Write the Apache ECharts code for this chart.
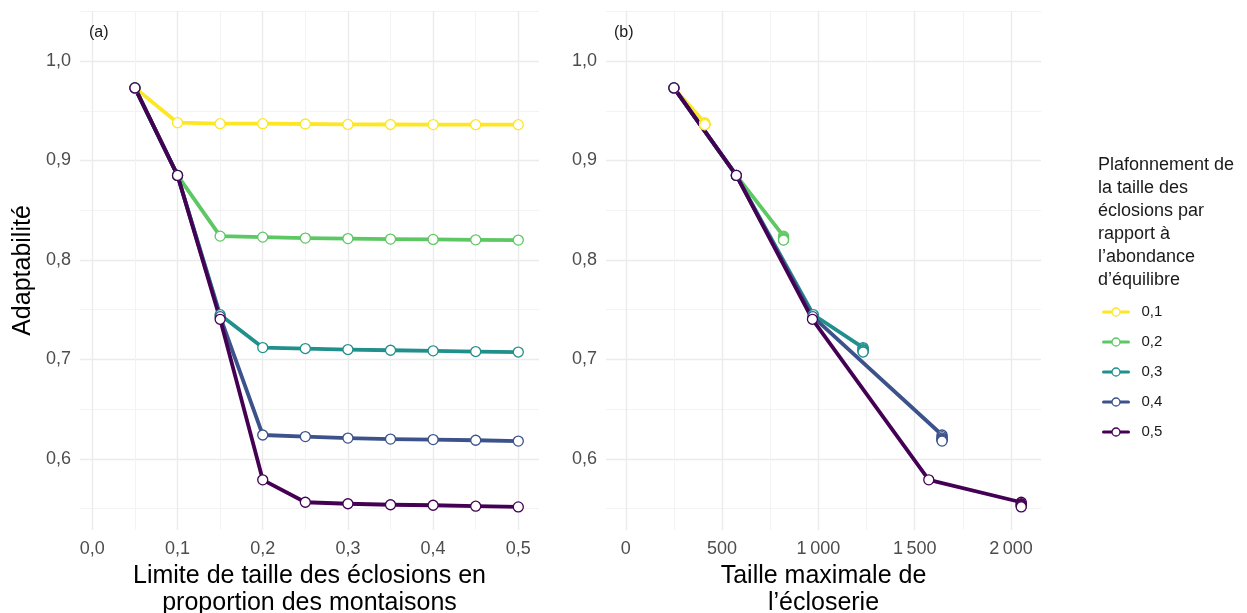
<!DOCTYPE html>
<html>
<head>
<meta charset="utf-8">
<script src="https://cdn.jsdelivr.net/npm/echarts@6/dist/echarts.min.js"></script>
<style>
  html, body { margin: 0; padding: 0; background: #ffffff; }
  #chart { width: 1247px; height: 613px; }
</style>
</head>
<body>
<div id="chart"></div>
<script>
// Limite de taille des éclosions (proportion des montaisons)
const limites = [0.05, 0.1, 0.15, 0.2, 0.25, 0.3, 0.35, 0.4, 0.45, 0.5];

// Plafonnement (proportion de l'abondance d'équilibre)
const plafonds = ['0,1', '0,2', '0,3', '0,4', '0,5'];
const couleurs = ['#FDE725', '#5DC863', '#21908C', '#3B528B', '#440154'];

// Adaptabilité pour chaque plafond, dans l'ordre des limites
const adapt01 = [0.973, 0.938, 0.937, 0.937, 0.9367, 0.9363, 0.9362, 0.9361, 0.936, 0.936];
const adapt02 = [0.973, 0.885, 0.824, 0.823, 0.822, 0.8215, 0.821, 0.8207, 0.8203, 0.820];
const adapt03 = [0.973, 0.885, 0.745, 0.712, 0.711, 0.710, 0.7093, 0.7087, 0.708, 0.7075];
const adapt04 = [0.973, 0.885, 0.743, 0.6241, 0.6225, 0.621, 0.620, 0.6195, 0.6188, 0.618];
const adapt05 = [0.973, 0.885, 0.7404, 0.579, 0.5565, 0.555, 0.554, 0.5535, 0.5525, 0.5518];

// Taille maximale de l'écloserie atteinte pour chaque limite
const taille01 = [250, 410, 410, 410, 410, 410, 410, 410, 410, 410];
const taille02 = [250, 574, 819, 819, 819, 819, 819, 819, 819, 819];
const taille03 = [250, 574, 974, 1232, 1232, 1232, 1232, 1232, 1232, 1232];
const taille04 = [250, 574, 971, 1642, 1642, 1642, 1642, 1642, 1642, 1642];
const taille05 = [250, 574, 969, 1573, 2053, 2053, 2053, 2053, 2053, 2053];

// Graduations
const ticksY = [0.6, 0.7, 0.8, 0.9, 1.0];
const ticksLimite = [0.0, 0.1, 0.2, 0.3, 0.4, 0.5];
const ticksTaille = [0, 500, 1000, 1500, 2000];

const adaptations = [adapt01, adapt02, adapt03, adapt04, adapt05];
const tailles = [taille01, taille02, taille03, taille04, taille05];

const FONT = '"Liberation Sans", Arial, sans-serif';
const GRIS_TEXTE = '#4d4d4d';

function estGraduation(v, liste) {
  return liste.some(t => Math.abs(t - v) < 1e-6);
}
function virgule(v, dec) {
  return v.toFixed(dec).replace('.', ',');
}
function milliers(v) {
  const s = String(Math.round(v));
  return s.length > 3 ? s.slice(0, s.length - 3) + '\u202F' + s.slice(-3) : s;
}

const splitLine = { show: true, showMinLine: false, showMaxLine: false,
  lineStyle: { color: '#ebebeb', width: 1.4 } };
const minorSplitLine = { show: true, lineStyle: { color: '#f3f3f3', width: 1 } };

function axeY(index, nom) {
  return {
    type: 'value', gridIndex: index, min: 0.5286, max: 1.0503, splitNumber: 5,
    name: nom, nameLocation: 'middle', nameGap: 44, nameRotate: 90,
    nameTextStyle: { fontFamily: FONT, fontSize: 25, color: '#000' },
    axisLine: { show: false }, axisTick: { show: false },
    minorTick: { show: false, splitNumber: 2 },
    axisLabel: { fontFamily: FONT, fontSize: 18, color: GRIS_TEXTE, margin: 9,
      showMinLabel: false, showMaxLabel: false,
      formatter: v => estGraduation(v, ticksY) ? virgule(v, 1) : '' },
    splitLine: splitLine, minorSplitLine: minorSplitLine
  };
}

function axeX(index, min, max, nom, format) {
  return {
    type: 'value', gridIndex: index, min: min, max: max, splitNumber: 5,
    name: nom, nameLocation: 'middle', nameGap: 30,
    nameTextStyle: { fontFamily: FONT, fontSize: 25, lineHeight: 27, color: '#000' },
    axisLine: { show: false }, axisTick: { show: false },
    minorTick: { show: false, splitNumber: 2 },
    axisLabel: { fontFamily: FONT, fontSize: 18, color: GRIS_TEXTE, margin: 10,
      showMinLabel: false, showMaxLabel: false, formatter: format },
    splitLine: splitLine, minorSplitLine: minorSplitLine
  };
}

const series = [];
const points = [];
[0, 1].forEach(panneau => {
  plafonds.forEach((nom, i) => {
    const xs = panneau === 0 ? limites : tailles[i];
    const data = xs.map((x, k) => [x, adaptations[i][k]]);
    const style = { color: '#ffffff', borderColor: couleurs[i], borderWidth: 1.3, opacity: 1 };
    series.push({
      type: 'line', name: nom, xAxisIndex: panneau, yAxisIndex: panneau,
      data: data, symbol: 'circle', symbolSize: 10, showSymbol: false,
      itemStyle: style,
      lineStyle: { color: couleurs[i], width: 3.8, join: 'round', cap: 'round' },
      emphasis: { disabled: true }, animation: false, z: 2
    });
    points.push({
      type: 'scatter', name: nom, xAxisIndex: panneau, yAxisIndex: panneau,
      data: data, symbol: 'circle', symbolSize: 10,
      itemStyle: style, emphasis: { disabled: true }, animation: false, z: 3,
      legendHoverLink: false
    });
  });
});

const option = {
  backgroundColor: '#ffffff',
  animation: false,
  grid: [
    { left: 80, top: 11, width: 459, height: 519, containLabel: false, outerBoundsMode: 'none' },
    { left: 606, top: 11, width: 435, height: 519, containLabel: false, outerBoundsMode: 'none' }
  ],
  xAxis: [
    axeX(0, -0.0145, 0.5243, 'Limite de taille des éclosions en\nproportion des montaisons',
      v => estGraduation(v, ticksLimite) ? virgule(v, 1) : ''),
    axeX(1, -102.6, 2155.6, 'Taille maximale de\nl’écloserie',
      v => estGraduation(v, ticksTaille) ? milliers(v) : '')
  ],
  yAxis: [axeY(0, 'Adaptabilité'), axeY(1, '')],
  legend: {
    data: plafonds,
    orient: 'vertical', left: 1097, top: 299,
    itemWidth: 25, itemHeight: 10, itemGap: 14,
    selectedMode: false,
    lineStyle: { width: 3 },
    itemStyle: { borderWidth: 1.3 },
    textStyle: { fontFamily: FONT, fontSize: 15, lineHeight: 16, color: '#1a1a1a',
      padding: [0, 0, 0, 8] }
  },
  graphic: [
    { type: 'text', left: 89, top: 25, z: 100,
      style: { text: '(a)', fontFamily: FONT, fontSize: 16, fill: '#1a1a1a' } },
    { type: 'text', left: 614, top: 25, z: 100,
      style: { text: '(b)', fontFamily: FONT, fontSize: 16, fill: '#1a1a1a' } },
    { type: 'text', left: 1098, top: 154, z: 100,
      style: { text: 'Plafonnement de\nla taille des\néclosions par\nrapport à\nl’abondance\nd’équilibre',
        fontFamily: FONT, fontSize: 18, lineHeight: 23, fill: '#1a1a1a' } }
  ],
  series: series.concat(points)
};

const chart = echarts.init(document.getElementById('chart'), null, { renderer: 'canvas' });
chart.setOption(option);
</script>
</body>
</html>
